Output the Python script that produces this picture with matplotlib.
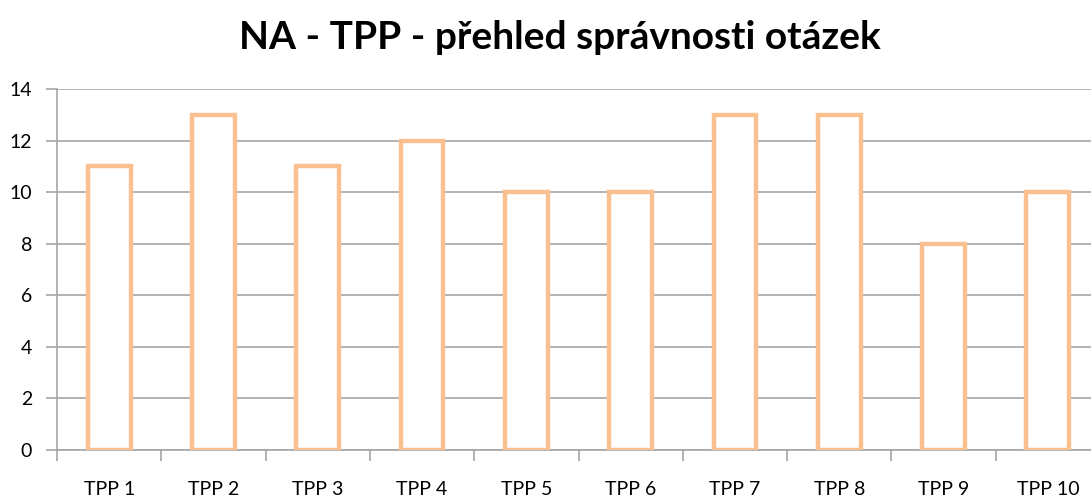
import matplotlib.pyplot as plt
import numpy as np

categories = ['TPP 1', 'TPP 2', 'TPP 3', 'TPP 4', 'TPP 5',
              'TPP 6', 'TPP 7', 'TPP 8', 'TPP 9', 'TPP 10']
values = [11, 13, 11, 12, 10, 10, 13, 13, 8, 10]

plt.rcParams['font.family'] = ['Lato', 'DejaVu Sans']

fig = plt.figure(figsize=(10.91, 4.97), dpi=100)
ax = fig.add_axes([57 / 1091, 47 / 497, 1043 / 1091, 361 / 497])

x = np.arange(len(categories))
ax.bar(x, values, width=0.41, facecolor='white', edgecolor='#FAC090',
       linewidth=3.2, zorder=3)

ax.set_xlim(-0.5, len(categories) - 0.5)
ax.set_ylim(0, 14)
ax.set_yticks(np.arange(0, 15, 2))
ax.grid(axis='y', color='#A6A6A6', linewidth=1.2, zorder=0)

# category boundaries as major ticks, labels on minor ticks
ax.set_xticks(np.arange(-0.5, len(categories), 1))
ax.set_xticklabels([])
ax.set_xticks(x, minor=True)
ax.set_xticklabels(categories, minor=True)
ax.tick_params(axis='x', which='major', length=8, color='#A6A6A6', width=1.2)
ax.tick_params(axis='x', which='minor', length=0, pad=22, labelsize=14)
ax.tick_params(axis='y', length=8, color='#A6A6A6', width=1.2, pad=10,
               labelsize=14)

for side in ['top', 'right']:
    ax.spines[side].set_visible(False)
for side in ['left', 'bottom']:
    ax.spines[side].set_color('#A6A6A6')
    ax.spines[side].set_linewidth(1.2)

fig.text(0.513, 0.925, 'NA - TPP - přehled správnosti otázek', ha='center',
         va='center', fontsize=28, fontweight='bold')

fig.savefig('out.png', dpi=100)
